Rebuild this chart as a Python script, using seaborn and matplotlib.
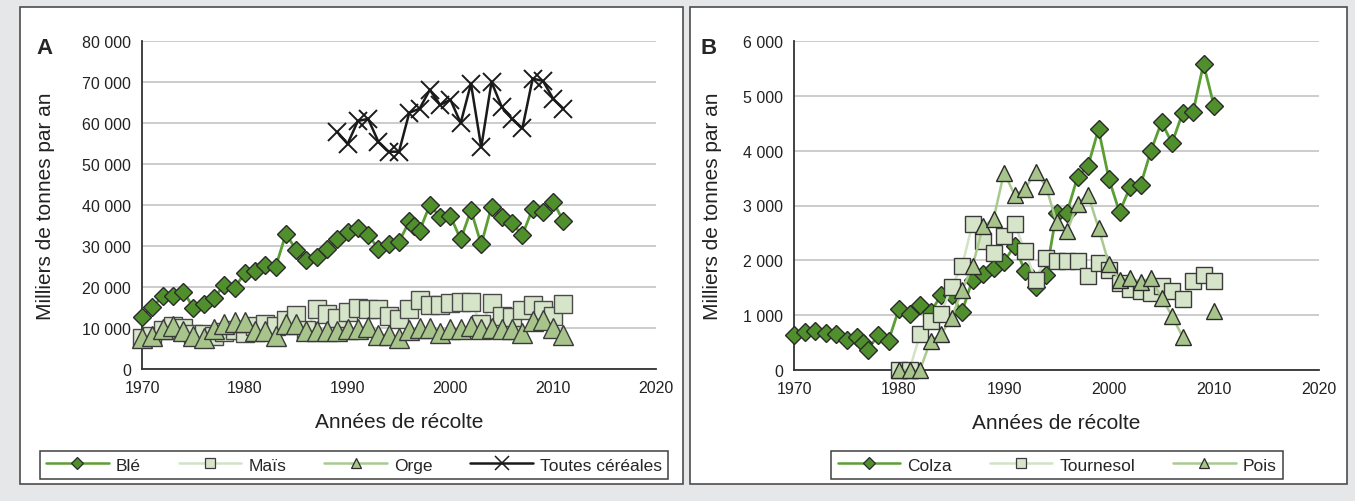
import numpy as np
import pandas as pd
import matplotlib
matplotlib.use("Agg")
import matplotlib.pyplot as plt
import seaborn as sns
from matplotlib.lines import Line2D
from matplotlib.patches import Rectangle
from matplotlib.ticker import FuncFormatter, MultipleLocator

# ---------------- data : panel A (céréales) ----------------
years_a = list(range(1970, 2012))
ble_years = list(range(1970, 1997)) + [1996.5] + list(range(1997, 2012))
ble = [12700, 15100, 17700, 17900, 18900, 15000, 15800, 17300, 20600, 19700,
       23500, 23800, 25300, 24900, 33000, 29000, 26500, 27300, 29200, 31800,
       33400, 34500, 32800, 29200, 30500, 31000, 36000, 34900, 33700, 40000,
       37100, 37300, 31600, 38700, 30400, 39600, 37100, 35500, 32700, 39100,
       38300, 40800, 36000]
mais = [7500, 8000, 9500, 10500, 10000, 8500, 8500, 8000, 9000, 9500,
        8700, 10500, 11000, 10500, 12000, 13200, 9500, 14700, 13300, 12500,
        14000, 14900, 14700, 14700, 13000, 12200, 14700, 16800, 15600, 15600,
        16000, 16400, 16400, 10900, 16000, 13000, 12600, 14300, 15600, 14300,
        13000, 15800]
orge = [7500, 8000, 9700, 10500, 9200, 8000, 7500, 9700, 11000, 11400,
        11500, 9200, 9200, 8000, 11000, 11000, 9200, 9200, 9200, 9200,
        9700, 9700, 10200, 8300, 8300, 7500, 9500, 10000, 10000, 8800,
        9700, 9700, 10500, 9700, 10000, 9700, 9700, 8800, 11600, 12000,
        10000, 8300]
toutes_years = list(range(1989, 2012))
toutes = [57800, 54900, 60500, 61000, 55400, 53000, 53000, 62500, 63500, 68100,
          64400, 65700, 60000, 69600, 54100, 70000, 63900, 61000, 58700, 70800,
          70300, 65900, 63500]

# ---------------- data : panel B (oléagineux / protéagineux) ----------------
colza_years = list(range(1970, 1977)) + [1976.6] + list(range(1977, 2011))
colza = [630, 690, 710, 680, 660, 550, 610, 500, 365, 630,
         530, 1120, 1015, 1180, 1050, 1360, 1360, 1060, 1650, 1750,
         1865, 1970, 2270, 1800, 1520, 1740, 2860, 2870, 3520, 3720,
         4390, 3480, 2880, 3330, 3370, 4000, 4520, 4140, 4680, 4700,
         5580, 4820]
years_b = list(range(1980, 2011))
tournesol = [0, 0, 650, 890, 1015, 1520, 1890, 2670, 2350, 2125,
             2440, 2670, 2170, 1650, 2050, 1985, 1985, 1985, 1710, 1955,
             1830, 1590, 1470, 1440, 1410, 1540, 1440, 1300, 1630, 1740,
             1620]
pois = [0, 0, 0, 530, 650, 950, 1450, 1890, 2620, 2750,
        3600, 3200, 3300, 3620, 3350, 2690, 2530, 3030, 3200, 2590,
        1930, 1650, 1670, 1610, 1670, 1320, 985, 610, np.nan, np.nan,
        1075]

labels_a = ["Blé", "Maïs", "Orge", "Toutes céréales"]
labels_b = ["Colza", "Tournesol", "Pois"]
xlabel = "Années de récolte"
ylabel = "Milliers de tonnes par an"

# ---------------- style ----------------
sns.set_theme(style="white")
plt.rcParams["font.family"] = ["Liberation Sans", "DejaVu Sans"]

DARK = "#4f8f2c"; DARK_LINE = "#5a9e34"
LIGHT = "#d6e4c9"; LIGHT_LINE = "#d3e3c6"
MID = "#a7c58b"; MID_LINE = "#a9ca8e"
EDGE = "#2b2b2b"

W, H = 1355, 502
fig = plt.figure(figsize=(W / 100, H / 100), dpi=100)
fig.patch.set_facecolor("#e6e7e8")

for x0, w in [(20, 663), (690, 657)]:
    fig.patches.append(Rectangle((x0 / W, 17 / H), w / W, 477 / H,
                                 transform=fig.transFigure, facecolor="white",
                                 edgecolor="#4d4d4d", lw=1.2, zorder=-5))

axA = fig.add_axes([142 / W, 1 - 370 / H, 514 / W, 328 / H])
axB = fig.add_axes([794 / W, 1 - 371 / H, 525 / W, 329 / H])
for ax in (axA, axB):
    ax.set_zorder(2)


def draw(ax, x, y, marker, ms, face, edge, line, lw, mew, z):
    df = pd.DataFrame({"x": x, "y": y})
    ok = df["y"].notna()
    runs = (~ok).cumsum()
    for _, part in df[ok].groupby(runs[ok]):
        sns.lineplot(data=part, x="x", y="y", ax=ax, color=line, lw=lw,
                     marker=marker, markersize=ms, markerfacecolor=face,
                     markeredgecolor=edge, markeredgewidth=mew, sort=False,
                     estimator=None, zorder=z, legend=False, clip_on=False)


# Panel A
draw(axA, ble_years, ble, "D", 9.5, DARK, EDGE, DARK_LINE, 2.0, 1.0, 3)
draw(axA, years_a, mais, "s", 13, LIGHT, "#4a4a4a", LIGHT_LINE, 1.8, 1.0, 4)
draw(axA, years_a, orge, "^", 14, MID, "#3a3a3a", MID_LINE, 1.8, 1.0, 5)
draw(axA, toutes_years, toutes, "x", 13, "black", "#1a1a1a", "#1a1a1a", 1.8, 1.4, 6)

# Panel B
draw(axB, colza_years, colza, "D", 9, DARK, EDGE, DARK_LINE, 2.0, 1.0, 3)
draw(axB, years_b, tournesol, "s", 11.5, LIGHT, "#3a3a3a", LIGHT_LINE, 1.8, 1.0, 4)
draw(axB, years_b, pois, "^", 12, MID, "#2b2b2b", MID_LINE, 1.8, 1.0, 5)

fmt = FuncFormatter(lambda v, p: f"{int(round(v)):,}".replace(",", " "))
for ax, ymax, step in [(axA, 80000, 10000), (axB, 6000, 1000)]:
    ax.set_xlim(1970, 2020)
    ax.set_ylim(0, ymax)
    ax.xaxis.set_major_locator(MultipleLocator(10))
    ax.yaxis.set_major_locator(MultipleLocator(step))
    ax.yaxis.set_major_formatter(fmt)
    ax.patch.set_alpha(0)
    ax.grid(axis="y", color="#c4c4c4", lw=1.2, zorder=0)
    ax.grid(axis="x", visible=False)
    ax.set_axisbelow(True)
    for s in ["top", "right"]:
        ax.spines[s].set_visible(False)
    for s in ["left", "bottom"]:
        ax.spines[s].set_color("#333333")
        ax.spines[s].set_linewidth(1.3)
    ax.tick_params(axis="both", direction="out", length=5, width=1.2,
                   color="#333333", labelsize=11.5, labelcolor="#222222", pad=3)
    ax.set_xlabel(xlabel, fontsize=15, color="#222222")
    ax.set_ylabel(ylabel, fontsize=15, color="#222222")

axA.xaxis.set_label_coords(0.5, -0.13)
axB.xaxis.set_label_coords(0.5, -0.13)
axA.yaxis.set_label_coords(-0.17, 0.5)
axB.yaxis.set_label_coords(-0.138, 0.5)

fig.text(36 / W, 1 - 48 / H, "A", fontsize=16, fontweight="bold", va="center")
fig.text(701 / W, 1 - 48 / H, "B", fontsize=16, fontweight="bold", va="center")


def handles(specs):
    return [Line2D([], [], color=l, lw=1.8, marker=m, markersize=ms,
                   markerfacecolor=f, markeredgecolor=e, markeredgewidth=mw)
            for m, ms, f, e, l, mw in specs]


hA = handles([("D", 6, DARK, EDGE, DARK_LINE, 0.9),
              ("s", 7, LIGHT, "#3a3a3a", LIGHT_LINE, 0.9),
              ("^", 7, MID, "#2b2b2b", MID_LINE, 0.9),
              ("x", 10, "black", "#1a1a1a", "#1a1a1a", 1.1)])
hB = handles([("D", 6, DARK, EDGE, DARK_LINE, 0.9),
              ("s", 7, LIGHT, "#3a3a3a", LIGHT_LINE, 0.9),
              ("^", 7, MID, "#2b2b2b", MID_LINE, 0.9)])

for h, labs, cx in [(hA, labels_a, 354 / W), (hB, labels_b, 1057 / W)]:
    leg = fig.legend(h, labs, loc="center", bbox_to_anchor=(cx, 1 - 466 / H),
                     ncol=len(labs), frameon=True, fancybox=False,
                     edgecolor="#111111", fontsize=12.5, handlelength=3.6,
                     handletextpad=0.4, columnspacing=2.2, borderpad=0.35,
                     borderaxespad=0)
    leg.get_frame().set_linewidth(1.1)
    leg.get_frame().set_facecolor("white")

fig.savefig("out.png", dpi=100, facecolor=fig.get_facecolor())
